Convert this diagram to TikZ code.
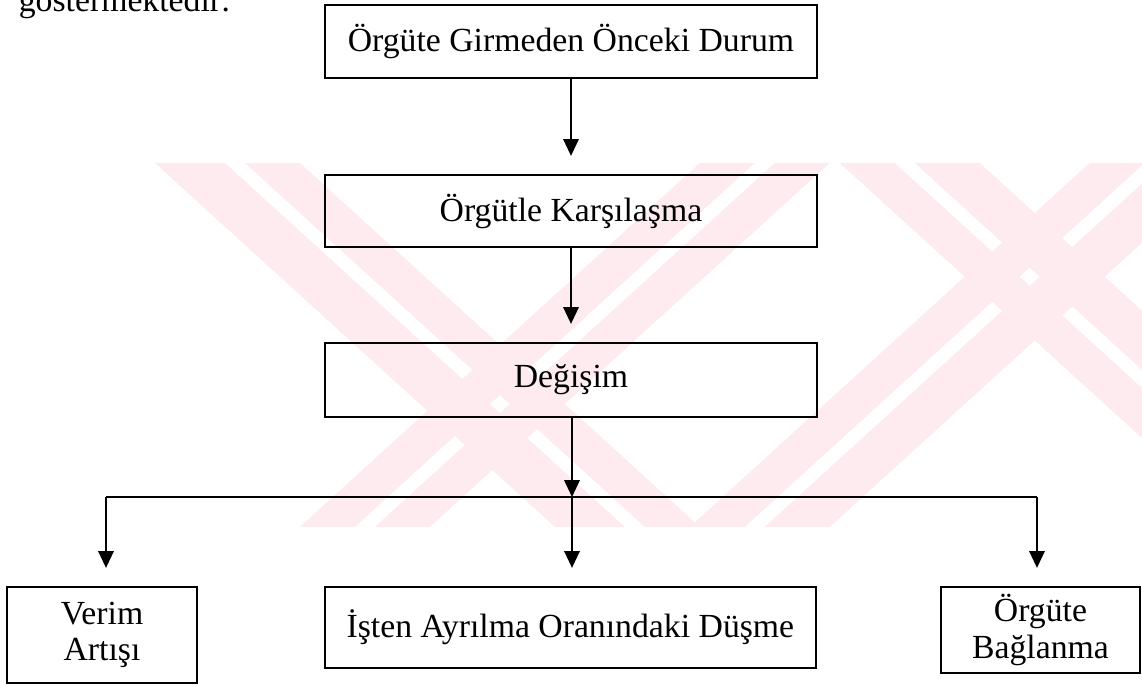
\documentclass[tikz,border=0pt,12pt]{standalone}
\usepackage{fontspec}
\setmainfont{Liberation Serif}
\usetikzlibrary{arrows.meta}
\definecolor{MarkClr}{rgb}{0.992,0.922,0.937}

\begin{document}
\begin{tikzpicture}[
  box/.style={draw,line width=0.8pt,inner sep=0pt,align=center},
  link/.style={line width=0.7pt,-{Triangle[length=6pt,width=5.5pt]},shorten >=0.225cm},
  font=\fontsize{12}{13}\selectfont]
\useasboundingbox (0,0) rectangle (14.275,-8.5625);

% pale stripes behind the chart, two strokes per band
\begin{scope}[x=0.0125cm,y=-0.0125cm]
\foreach \a/\b in {155/225,245/300}
  \fill[MarkClr] (\a,163) -- (\b,163) -- (\b+400,527) -- (\a+400,527) -- cycle;
\foreach \a/\b in {700/755,775/830}
  \fill[MarkClr] (\a,163) -- (\b,163) -- (\b-400,527) -- (\a-400,527) -- cycle;
\foreach \a/\b in {840/895,915/980}
  \fill[MarkClr] (\a,163) -- (\b,163) -- (\b+400,527) -- (\a+400,527) -- cycle;
\foreach \a/\b in {1090/1145,1165/1230}
  \fill[MarkClr] (\a,163) -- (\b,163) -- (\b-400,527) -- (\a-400,527) -- cycle;
\end{scope}

\node[anchor=base west] (lead) at (0.0875,-0.1375) {göstermektedir:};

\node[box,minimum width=6.15cm,minimum height=0.9125cm] (giris) at (7.1375,-0.519) {Örgüte Girmeden Önceki Durum};
\node[box,minimum width=6.15cm,minimum height=0.9cm] (karsi) at (7.1375,-2.6375) {Örgütle Karşılaşma};
\node[box,minimum width=6.15cm,minimum height=0.925cm] (degis) at (7.1375,-4.75) {Değişim};

\node[box,minimum width=2.375cm,minimum height=1.2cm] (verim) at (1.275,-7.9375) {Verim\\Artışı};
\node[box,minimum width=6.1375cm,minimum height=1.0125cm] (ayril) at (7.13,-7.84375) {İşten Ayrılma Oranındaki Düşme};
\node[box,minimum width=2.4875cm,minimum height=1.075cm] (bagl) at (13.006,-7.875) {Örgüte\\Bağlanma};

\coordinate (J) at (7.15,-6.2125);
\coordinate (JL) at (1.325,-6.2125);
\coordinate (JR) at (12.9625,-6.2125);

\draw[link] (giris) -- (karsi);
\draw[link] (karsi) -- (degis);
\draw[link,shorten >=0pt] (degis.south -| J) -- (J);
\draw[line width=0.7pt] (JL) -- (JR);

\draw[link] (JL) -- (verim.north -| JL);
\draw[link] (J) -- (ayril.north -| J);
\draw[link] (JR) -- (bagl.north -| JR);

\end{tikzpicture}
\end{document}
